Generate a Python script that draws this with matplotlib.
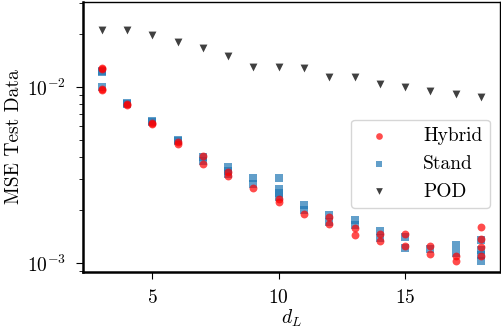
import matplotlib
matplotlib.use("Agg")
import matplotlib.pyplot as plt
import numpy as np

plt.rcParams["font.family"] = "serif"
plt.rcParams["font.serif"] = ["cmr10"]
plt.rcParams["mathtext.fontset"] = "cm"
plt.rcParams["axes.formatter.use_mathtext"] = True
plt.rcParams["axes.unicode_minus"] = False

# POD: one value per reduced dimension
pod_d = [3, 4, 5, 6, 7, 8, 9, 10, 11, 12, 13, 14, 15, 16, 17, 18]
pod_mse = [0.0211, 0.0211, 0.0197, 0.0180, 0.0167, 0.0150, 0.0130, 0.0130,
           0.0128, 0.0114, 0.0114, 0.0104, 0.0100, 0.00949, 0.00913, 0.00878]

# Hybrid and Stand: several runs per reduced dimension
hybrid_d = [3, 3, 3, 3, 4, 4, 5, 5, 6, 6, 7, 7, 8, 8, 9, 10, 10,
            11, 12, 12, 13, 13, 14, 14, 15, 15, 16, 16, 17, 17, 18, 18, 18, 18]
hybrid_mse = [0.0128, 0.0126, 0.0097, 0.0096, 0.00800, 0.00790, 0.00625, 0.00618,
              0.00490, 0.00475, 0.00405, 0.00365, 0.00330, 0.00312, 0.00268,
              0.00230, 0.00222, 0.00191, 0.00182, 0.00166, 0.00158, 0.00145,
              0.00146, 0.00133, 0.00146, 0.00125, 0.00125, 0.00112, 0.00110,
              0.00103, 0.00160, 0.00137, 0.00124, 0.00109]

stand_d = [3, 3, 3, 4, 4, 5, 5, 6, 6, 7, 7, 8, 8, 8, 9, 9, 10, 10, 10, 10,
           11, 11, 12, 12, 13, 13, 14, 14, 15, 15, 16, 17, 17, 18, 18, 18, 18]
stand_mse = [0.0123, 0.0121, 0.0100, 0.00815, 0.00805, 0.00640, 0.00630,
             0.00500, 0.00492, 0.00400, 0.00380, 0.00350, 0.00335, 0.00320,
             0.00303, 0.00280, 0.00303, 0.00263, 0.00249, 0.00238, 0.00214,
             0.00200, 0.00187, 0.00172, 0.00175, 0.00164, 0.00151, 0.00138,
             0.00141, 0.00121, 0.00120, 0.00126, 0.00114, 0.00135, 0.00118,
             0.00111, 0.00102]

fig = plt.figure(figsize=(5.02, 3.28), dpi=100)
ax = fig.add_axes([0.165, 0.171, 0.831, 0.823])

ax.scatter(hybrid_d, hybrid_mse, marker="o", s=32, color="red", alpha=0.7,
           label="Hybrid", zorder=3, linewidths=0)
ax.scatter(stand_d, stand_mse, marker="s", s=32, color="tab:blue", alpha=0.7,
           label="Stand", zorder=2, linewidths=0)
ax.scatter(pod_d, pod_mse, marker="v", s=32, color="black", alpha=0.75,
           label="POD", zorder=2, linewidths=0)

ax.set_yscale("log")
ax.set_ylim(8.9e-4, 3.04e-2)
ax.set_xlim(2.25, 18.75)
ax.set_xticks([5, 10, 15])

ax.set_xlabel("$d_L$", fontsize=14, labelpad=1)
ax.set_ylabel("MSE Test Data", fontsize=14, labelpad=3)
ax.tick_params(which="major", labelsize=14, length=5, pad=7)
ax.tick_params(which="minor", length=3)

for side in ("left", "bottom"):
    ax.spines[side].set_linewidth(1.8)
for side in ("top", "right"):
    ax.spines[side].set_linewidth(1.0)

ax.legend(loc="center right", bbox_to_anchor=(1.0, 0.40), fontsize=14,
          handletextpad=1.3, markerscale=0.85)

fig.savefig("out.png", dpi=100)
